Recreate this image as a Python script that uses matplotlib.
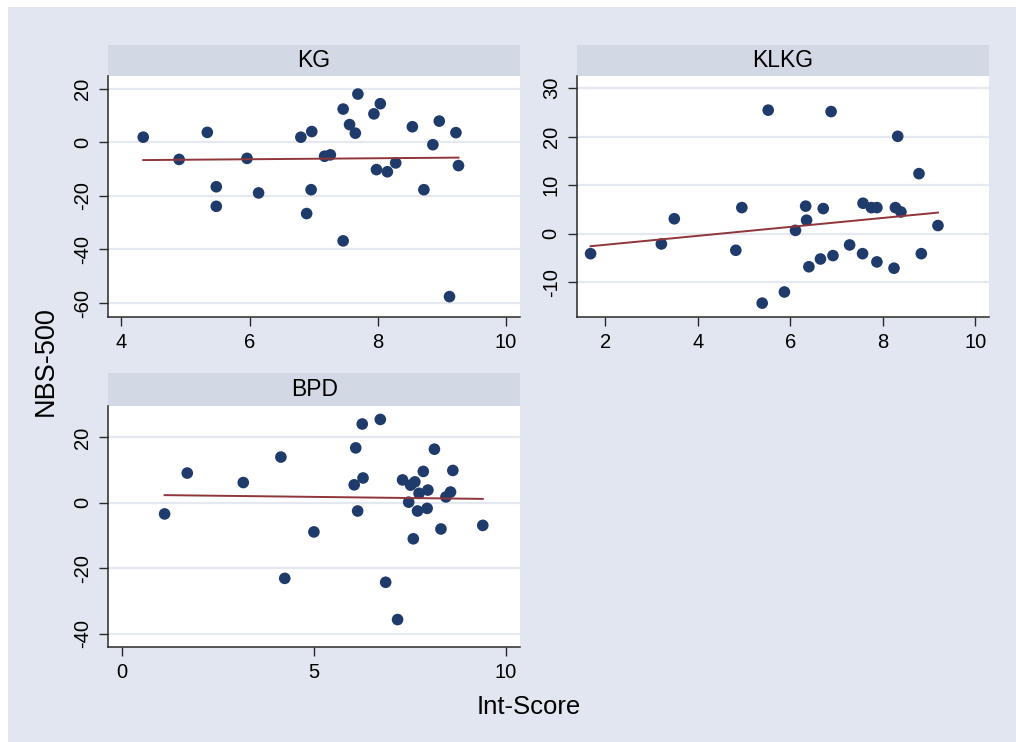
import numpy as np
import matplotlib
matplotlib.use("Agg")
import matplotlib.pyplot as plt
from matplotlib.patches import Rectangle

plt.rcParams['font.family'] = ['Liberation Sans', 'DejaVu Sans']

# ---- data -------------------------------------------------------------
kg_x = [4.34, 4.90, 5.34, 5.48, 5.48, 5.96, 6.14, 6.80, 6.97, 6.89,
        6.96, 7.17, 7.26, 7.46, 7.46, 7.56, 7.65, 7.69, 7.94, 8.04,
        7.98, 8.15, 8.28, 8.54, 8.72, 8.86, 8.96, 9.12, 9.22, 9.26]
kg_y = [1.9, -6.4, 3.7, -16.6, -23.9, -6.0, -18.9, 1.9, 4.0, -26.6,
        -17.7, -5.2, -4.7, 12.4, -36.8, 6.6, 3.4, 18.0, 10.6, 14.4,
        -10.2, -11.0, -7.7, 5.8, -17.7, -0.9, 7.9, -57.6, 3.6, -8.7]

klkg_x = [1.68, 3.21, 3.49, 4.82, 4.95, 5.52, 5.39, 5.87, 6.11, 6.33,
          6.35, 6.40, 6.65, 6.71, 6.88, 6.92, 7.28, 7.56, 7.57, 7.75,
          7.87, 7.87, 8.24, 8.27, 8.32, 8.39, 8.78, 8.83, 9.19]
klkg_y = [-4.1, -2.1, 3.1, -3.4, 5.4, 25.5, -14.3, -12.0, 0.7, 5.7,
          2.8, -6.8, -5.2, 5.2, 25.2, -4.5, -2.3, -4.1, 6.3, 5.4,
          5.4, -5.8, -7.1, 5.4, 20.1, 4.5, 12.4, -4.1, 1.7]

bpd_x = [1.11, 1.70, 3.16, 4.14, 4.24, 5.00, 6.05, 6.09, 6.14, 6.26,
         6.28, 6.73, 6.87, 7.18, 7.31, 7.47, 7.52, 7.63, 7.59, 7.70,
         7.74, 7.85, 7.95, 7.97, 8.14, 8.31, 8.44, 8.56, 8.62, 9.40]
bpd_y = [-3.4, 9.1, 6.2, 14.0, -23.1, -8.9, 5.5, 16.8, -2.5, 24.1,
         7.6, 25.5, -24.3, -35.7, 7.0, 0.2, 5.4, 6.4, -11.0, -2.5,
         2.9, 9.6, -1.7, 3.9, 16.4, -8.0, 1.8, 3.3, 9.9, -6.9]

panel_titles = ["KG", "KLKG", "BPD"]
x_ticks = [[4, 6, 8, 10], [2, 4, 6, 8, 10], [0, 5, 10]]
y_ticks = [[-60, -40, -20, 0, 20], [-10, 0, 10, 20, 30], [-40, -20, 0, 20]]
x_label = "Int-Score"
y_label = "NBS-500"

# ---- styling ----------------------------------------------------------
W, H = 1016, 742
BG = "#E1E6F0"
STRIP = "#D3D9E4"
GRID = "#E4E8F1"
DOT = "#1F3B6B"
FIT = "#90353B"
AX = "#2A2A2A"

fig = plt.figure(figsize=(W / 100, H / 100), dpi=100)
fig.patch.set_facecolor("white")
fig.add_artist(Rectangle((8 / W, 0), (W - 8) / W, (H - 7) / H,
                         transform=fig.transFigure, facecolor=BG,
                         edgecolor="none", zorder=-10))


def box(l, t, r, b):
    return [l / W, 1 - b / H, (r - l) / W, (b - t) / H]


panels = [
    (kg_x, kg_y, (108, 75.7, 520, 316.7), 45, (3.79, 10.22), (-65.1, 24.85)),
    (klkg_x, klkg_y, (576.7, 75.7, 989.3, 316.7), 45, (1.38, 10.30), (-17.1, 32.6)),
    (bpd_x, bpd_y, (108.3, 405.7, 520, 646.7), 373.3, (-0.357, 10.37), (-44.0, 29.7)),
]

for i, (xs, ys, (l, t, r, b), strip_top, xlim, ylim) in enumerate(panels):
    # title strip
    sax = fig.add_axes(box(l, strip_top, r, t))
    sax.set_facecolor(STRIP)
    sax.set_xticks([])
    sax.set_yticks([])
    for s in sax.spines.values():
        s.set_visible(False)
    sax.text(0.5, 0.5, panel_titles[i], ha="center", va="center",
             fontsize=16.5, transform=sax.transAxes)

    ax = fig.add_axes(box(l, t, r, b))
    ax.set_facecolor("white")
    ax.set_xlim(*xlim)
    ax.set_ylim(*ylim)
    ax.set_xticks(x_ticks[i])
    ax.set_yticks(y_ticks[i])
    ax.set_yticklabels([str(v) for v in y_ticks[i]], rotation=90, va="center")
    ax.tick_params(axis="both", direction="out", length=6.5, width=1.0,
                   color=AX, labelsize=14.5, pad=5)
    for side in ("top", "right"):
        ax.spines[side].set_visible(False)
    for side in ("left", "bottom"):
        ax.spines[side].set_color(AX)
        ax.spines[side].set_linewidth(1.1)
    ax.yaxis.grid(True, color=GRID, linewidth=1.6)
    ax.set_axisbelow(True)

    xa = np.asarray(xs)
    ya = np.asarray(ys)
    ax.scatter(xa, ya, s=70, color=DOT, edgecolors="none", zorder=3)
    slope, icpt = np.polyfit(xa, ya, 1)
    xx = np.array([xa.min(), xa.max()])
    ax.plot(xx, slope * xx + icpt, color=FIT, linewidth=1.4, zorder=4)

fig.text(529 / W, 1 - 707 / H, x_label, ha="center", va="center", fontsize=18.5)
fig.text(46 / W, 1 - 361 / H, y_label, ha="center", va="center",
         rotation=90, fontsize=19.5)

fig.savefig("out.png", dpi=100)
